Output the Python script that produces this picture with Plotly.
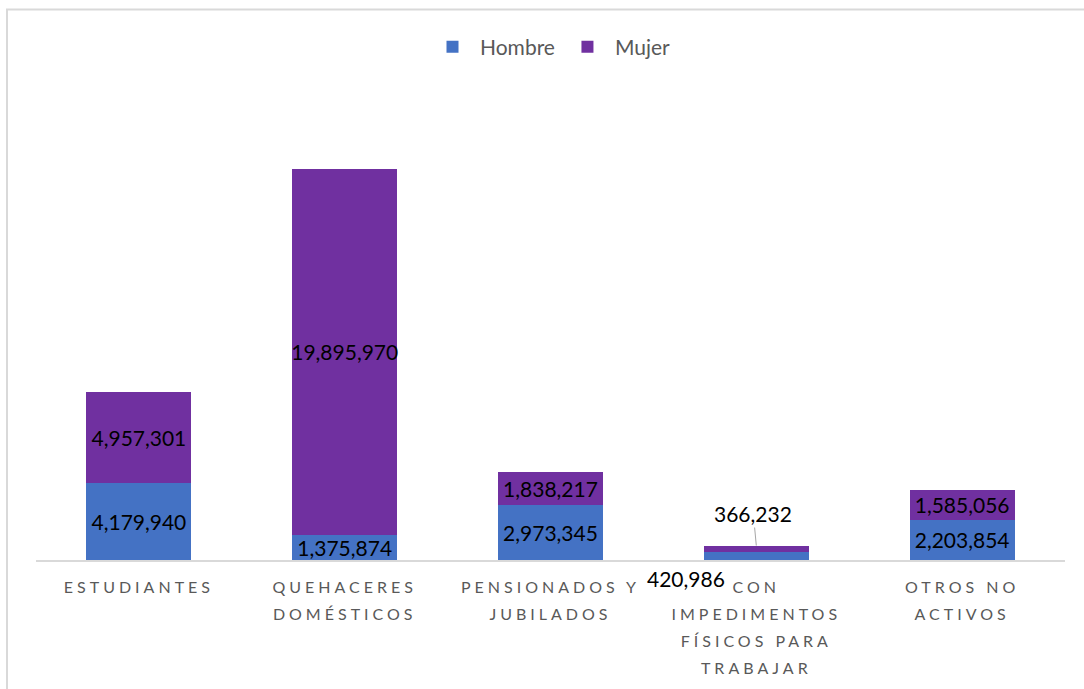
import plotly.graph_objects as go

# Datos: población no económicamente activa por tipo y sexo
categorias = ['ESTUDIANTES', 'QUEHACERES<br>DOMÉSTICOS', 'PENSIONADOS Y<br>JUBILADOS',
              'CON<br>IMPEDIMENTOS<br>FÍSICOS PARA<br>TRABAJAR', 'OTROS NO<br>ACTIVOS']
hombre = [4179940, 1375874, 2973345, 420986, 2203854]
mujer = [4957301, 19895970, 1838217, 366232, 1585056]

AZUL = '#4472C4'
MORADO = '#7030A0'
FUENTE = 'Lato'

# la categoría con barras pequeñas lleva las etiquetas fuera
idx_peq = 3


def etiquetas(vals):
    return ['' if i == idx_peq else f'{v:,}' for i, v in enumerate(vals)]


fig = go.Figure()
fig.add_trace(go.Bar(x=categorias, y=hombre, name='Hombre', marker_color=AZUL,
                     marker_line_width=0, text=etiquetas(hombre),
                     textposition='inside', insidetextanchor='middle',
                     constraintext='none', textangle=0,
                     textfont=dict(family=FUENTE, size=21, color='#000000')))
fig.add_trace(go.Bar(x=categorias, y=mujer, name='Mujer', marker_color=MORADO,
                     marker_line_width=0, text=etiquetas(mujer),
                     textposition='inside', insidetextanchor='middle',
                     constraintext='none', textangle=0,
                     textfont=dict(family=FUENTE, size=21, color='#000000')))

# etiquetas de la barra pequeña
fig.add_annotation(x=categorias[idx_peq], y=0, text=f'{hombre[idx_peq]:,}',
                   showarrow=False, xshift=-70, yshift=-18,
                   font=dict(family=FUENTE, size=21, color='#000000'))
fig.add_annotation(x=categorias[idx_peq], y=hombre[idx_peq] + mujer[idx_peq],
                   text=f'{mujer[idx_peq]:,}', showarrow=True, ax=-3, ay=-32,
                   arrowhead=0, arrowwidth=1, arrowcolor='#A6A6A6', standoff=0,
                   font=dict(family=FUENTE, size=21, color='#000000'))

# marco del gráfico
fig.add_shape(type='rect', xref='paper', yref='paper', x0=-0.0282, x1=1.05,
              y0=-0.5, y1=1.1967, line=dict(color='#D9D9D9', width=2),
              fillcolor='rgba(0,0,0,0)', layer='below')

fig.update_layout(
    barmode='stack',
    bargap=0.49,
    width=1084, height=689,
    margin=dict(l=36, r=19, t=100, b=129),
    plot_bgcolor='white', paper_bgcolor='white',
    font=dict(family=FUENTE, color='#595959'),
    legend=dict(orientation='h', x=0.5, xanchor='center', y=1.115, yanchor='middle',
                font=dict(family=FUENTE, size=21, color='#595959'),
                itemwidth=45, traceorder='normal'),
    xaxis=dict(showline=True, linecolor='#D9D9D9', linewidth=1.5, ticks='',
               tickfont=dict(family=FUENTE, size=16, color='#595959'),
               tickangle=0, ticklabelstandoff=12),
    yaxis=dict(visible=False, range=[0, 25.03e6], showgrid=False),
)

# sin margen en la página; espaciado entre letras e interlineado del eje x
post = """
document.body.style.margin = '0';
var gd = document.getElementsByClassName('plotly-graph-div')[0];
gd.querySelectorAll('.xtick text').forEach(function(t){
  t.style.letterSpacing = '4px';
  t.querySelectorAll('tspan.line').forEach(function(s){
    var d = parseFloat(s.getAttribute('dy') || '0');
    s.setAttribute('dy', (d * 1.3) + 'em');
  });
});
"""

fig.write_html("out.html", post_script=post, config={'displayModeBar': False})
